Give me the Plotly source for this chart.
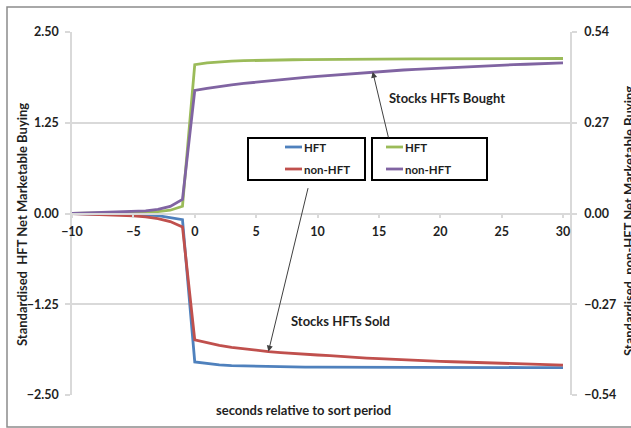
import numpy as np
import plotly.graph_objects as go

# seconds relative to the sort period
seconds = list(range(-10, 31))

# HFT net marketable buying (left axis, standardised)
hft_bought = [0.0, 0.002, 0.004, 0.007, 0.010, 0.014, 0.019, 0.026, 0.045, 0.100,
              2.050, 2.075, 2.090, 2.100, 2.105, 2.110, 2.113, 2.116, 2.118, 2.120,
              2.122, 2.123, 2.124, 2.125, 2.126, 2.127, 2.128, 2.129, 2.130, 2.130,
              2.131, 2.131, 2.132, 2.132, 2.133, 2.133, 2.134, 2.134, 2.135, 2.135, 2.135]
hft_sold = [0.0, -0.002, -0.004, -0.007, -0.010, -0.015, -0.021, -0.030, -0.055, -0.085,
            -2.045, -2.070, -2.085, -2.095, -2.100, -2.105, -2.108, -2.111, -2.113, -2.115,
            -2.116, -2.117, -2.117, -2.118, -2.118, -2.119, -2.119, -2.119, -2.120, -2.120,
            -2.120, -2.120, -2.121, -2.121, -2.121, -2.121, -2.122, -2.122, -2.122, -2.122, -2.123]

# non-HFT net marketable buying (right axis, standardised)
nonhft_bought = [0.0, 0.001, 0.002, 0.003, 0.004, 0.006, 0.008, 0.012, 0.021, 0.042,
                 0.366, 0.372, 0.378, 0.383, 0.387, 0.391, 0.395, 0.398, 0.402, 0.405,
                 0.408, 0.411, 0.414, 0.417, 0.420, 0.423, 0.425, 0.427, 0.429, 0.431,
                 0.433, 0.435, 0.437, 0.438, 0.440, 0.441, 0.443, 0.444, 0.446, 0.447, 0.448]
nonhft_sold = [0.0, -0.001, -0.002, -0.003, -0.005, -0.007, -0.010, -0.015, -0.024, -0.040,
               -0.376, -0.385, -0.392, -0.398, -0.403, -0.407, -0.411, -0.414, -0.417, -0.419,
               -0.421, -0.423, -0.426, -0.428, -0.430, -0.432, -0.434, -0.435, -0.437, -0.438,
               -0.440, -0.441, -0.442, -0.443, -0.445, -0.446, -0.447, -0.448, -0.449, -0.450, -0.451]

left_ticks = [-2.50, -1.25, 0.0, 1.25, 2.50]
right_ticks = [-0.54, -0.27, 0.0, 0.27, 0.54]

BLUE, RED, GREEN, PURPLE = "#4F81BD", "#C0504D", "#9BBB59", "#8064A2"
GRID = "#D9D9D9"
TEXT = "#1f1f1f"
FONT = "Lato"

W, H = 631, 428
L, R, T, B = 72, 570, 32, 395  # plot area in pixels


def px(x):
    return (x - L) / (R - L)


def py(y):
    return (B - y) / (B - T)


fig = go.Figure()
line_w = 2.8
fig.add_trace(go.Scatter(x=seconds, y=hft_sold, name="HFT", mode="lines",
                         line=dict(color=BLUE, width=line_w), yaxis="y"))
fig.add_trace(go.Scatter(x=seconds, y=nonhft_sold, name="non-HFT", mode="lines",
                         line=dict(color=RED, width=line_w), yaxis="y2"))
fig.add_trace(go.Scatter(x=seconds, y=hft_bought, name="HFT", mode="lines",
                         line=dict(color=GREEN, width=line_w), yaxis="y"))
fig.add_trace(go.Scatter(x=seconds, y=nonhft_bought, name="non-HFT", mode="lines",
                         line=dict(color=PURPLE, width=line_w), yaxis="y2"))

tickfont = dict(family=FONT, size=12.5, color=TEXT, weight="bold")

fig.update_layout(
    width=W, height=H,
    margin=dict(l=L, r=W - R, t=T, b=H - B),
    paper_bgcolor="white", plot_bgcolor="white",
    showlegend=False,
    xaxis=dict(range=[-10, 30.57], tickvals=list(range(-10, 31, 5)),
               anchor="free", position=0.5, showline=True, linecolor=GRID, linewidth=1.5,
               ticks="outside", ticklen=4, tickcolor=GRID, tickwidth=1.5,
               showgrid=False, zeroline=False, tickfont=tickfont, ticklabelstandoff=3),
    xaxis3=dict(range=[-10, 30.57], tickvals=list(range(-10, 31, 5)), overlaying="x",
                anchor="free", position=0.5, ticks="inside", ticklen=4, tickcolor=GRID,
                tickwidth=1.5, showticklabels=False, showgrid=False, zeroline=False,
                showline=False),
    yaxis=dict(range=[-2.5, 2.5], tickvals=left_ticks, tickformat=".2f",
               showgrid=True, gridcolor=GRID, gridwidth=1.5, zeroline=False,
               showline=True, linecolor=GRID, linewidth=1.5,
               ticks="outside", ticklen=5, tickcolor=GRID, tickwidth=1.5,
               tickfont=tickfont, ticklabelstandoff=4),
    yaxis2=dict(range=[-0.54, 0.54], tickvals=right_ticks, tickformat=".2f",
                overlaying="y", side="right", showgrid=False, zeroline=False,
                showline=True, linecolor=GRID, linewidth=1.5,
                ticks="outside", ticklen=5, tickcolor=GRID, tickwidth=1.5,
                tickfont=tickfont, ticklabelstandoff=5),
)

shapes = []
annotations = []

# outer chart border
shapes.append(dict(type="rect", xref="paper", yref="paper",
                   x0=px(7), x1=px(700), y0=py(427), y1=py(7),
                   line=dict(color="#8c8c8c", width=1.5), layer="below"))

# two bordered legend boxes
legend_boxes = [
    ((248, 138, 365, 180), [(BLUE, "HFT"), (RED, "non-HFT")], 285),
    ((372, 138, 487, 180), [(GREEN, "HFT"), (PURPLE, "non-HFT")], 386),
]
for (x0, y0, x1, y1), entries, sx in legend_boxes:
    shapes.append(dict(type="rect", xref="paper", yref="paper",
                       x0=px(x0), x1=px(x1), y0=py(y1), y1=py(y0),
                       line=dict(color="black", width=2), fillcolor="white", layer="above"))
    for (color, label), ey in zip(entries, (147, 169)):
        shapes.append(dict(type="line", xref="paper", yref="paper",
                           x0=px(sx), x1=px(sx + 17), y0=py(ey), y1=py(ey),
                           line=dict(color=color, width=2.8), layer="above"))
        annotations.append(dict(x=px(sx + 17), y=py(ey), xref="paper", yref="paper",
                                text=label, showarrow=False, xanchor="left", yanchor="middle",
                                font=dict(family=FONT, size=11.5, color=TEXT, weight="bold")))

# pointer arrows to the bought / sold curves
x_bought = 14.5
y_bought = float(np.interp(x_bought, seconds, nonhft_bought))
annotations.append(dict(x=x_bought, y=y_bought, xref="x", yref="y2", text="",
                        showarrow=True, ax=16, ay=67, arrowhead=2, arrowsize=1.2,
                        arrowwidth=1, arrowcolor="#404040"))
x_sold = 6
y_sold = nonhft_sold[seconds.index(x_sold)]
annotations.append(dict(x=x_sold, y=y_sold, xref="x", yref="y2", text="",
                        showarrow=True, ax=40, ay=-165, arrowhead=2, arrowsize=1.2,
                        arrowwidth=1, arrowcolor="#404040"))

label_font = dict(family=FONT, size=13, color=TEXT, weight="bold")
annotations.append(dict(x=px(387), y=py(98), xref="paper", yref="paper",
                        text="Stocks HFTs Bought", showarrow=False,
                        xanchor="left", yanchor="middle", font=label_font))
annotations.append(dict(x=px(289), y=py(321), xref="paper", yref="paper",
                        text="Stocks HFTs Sold", showarrow=False,
                        xanchor="left", yanchor="middle", font=label_font))

# axis titles
annotations.append(dict(x=px(22), y=py(225), xref="paper", yref="paper",
                        text="Standardised  HFT Net Marketable Buying", textangle=-90,
                        showarrow=False, xanchor="center", yanchor="middle", font=label_font))
annotations.append(dict(x=px(629), y=py(221), xref="paper", yref="paper",
                        text="Standardised  non-HFT Net Marketable Buying", textangle=-90,
                        showarrow=False, xanchor="center", yanchor="middle", font=label_font))
annotations.append(dict(x=px(303), y=py(410), xref="paper", yref="paper",
                        text="seconds relative to sort period", showarrow=False,
                        xanchor="center", yanchor="middle", font=label_font))

fig.update_layout(shapes=shapes, annotations=annotations)
fig.write_html("out.html")
